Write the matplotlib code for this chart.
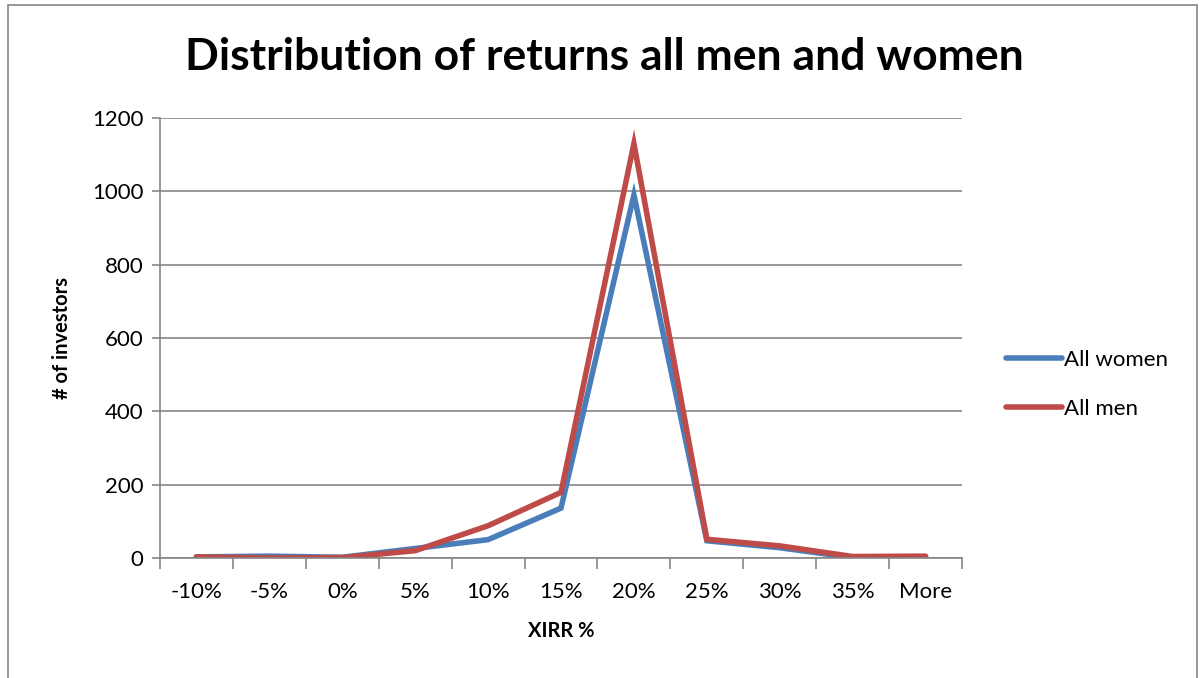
import matplotlib.pyplot as plt
from matplotlib.patches import Rectangle
from matplotlib.lines import Line2D

plt.rcParams['font.family'] = ['Lato', 'DejaVu Sans']

categories = ['-10%', '-5%', '0%', '5%', '10%', '15%', '20%', '25%', '30%', '35%', 'More']
women = [3, 5, 2, 26, 50, 136, 990, 47, 28, 1, 2]
men = [3, 0, 1, 20, 88, 179, 1130, 51, 33, 4, 5]

blue = '#4A7EBB'
red = '#BE4B48'
grey = '#868686'

fig = plt.figure(figsize=(12, 6.78), dpi=100)
ax = fig.add_axes([0.1333, 0.177, 0.6684, 0.649])

x = list(range(len(categories)))
ax.plot(x, women, color=blue, lw=4, solid_capstyle='round', solid_joinstyle='miter', label='All women')
ax.plot(x, men, color=red, lw=4, solid_capstyle='round', solid_joinstyle='miter', label='All men')

ax.set_xlim(-0.5, len(categories) - 0.5)
ax.set_ylim(0, 1200)
ax.set_yticks(range(0, 1201, 200))
ax.yaxis.grid(True, color=grey, lw=1.2)
ax.set_axisbelow(True)

# tick marks between categories, labels centred
ax.set_xticks([i - 0.5 for i in range(len(categories) + 1)])
ax.set_xticklabels([])
ax.set_xticks(x, minor=True)
ax.set_xticklabels(categories, minor=True, fontsize=16)
ax.tick_params(axis='x', which='major', length=8, color=grey, width=1.2, direction='out')
ax.tick_params(axis='x', which='minor', length=0, pad=17)
ax.tick_params(axis='y', length=6, color=grey, width=1.2, labelsize=16, pad=6)

for s in ['top', 'right']:
    ax.spines[s].set_visible(False)
for s in ['left', 'bottom']:
    ax.spines[s].set_color(grey)
    ax.spines[s].set_linewidth(1.2)

ax.set_xlabel('XIRR %', fontsize=14.5, fontweight='bold', labelpad=14)
ax.set_ylabel('# of investors', fontsize=14.5, fontweight='bold', labelpad=14)

fig.suptitle('Distribution of returns all men and women', x=0.504, y=0.945,
             fontsize=32, fontweight='bold')

handles = [Line2D([], [], color=blue, lw=4, solid_capstyle='round'),
           Line2D([], [], color=red, lw=4, solid_capstyle='round')]
fig.legend(handles, ['All women', 'All men'], loc='center left',
           bbox_to_anchor=(0.822, 0.433), frameon=False, fontsize=16,
           handlelength=2.5, handletextpad=0.1, labelspacing=1.3)

# outer chart border
fig.patches.append(Rectangle((8 / 1200, -0.1), 1189 / 1200, 1.1 - 5 / 678,
                             transform=fig.transFigure, fill=False,
                             edgecolor=grey, lw=1.2))

fig.savefig('out.png', dpi=100)
